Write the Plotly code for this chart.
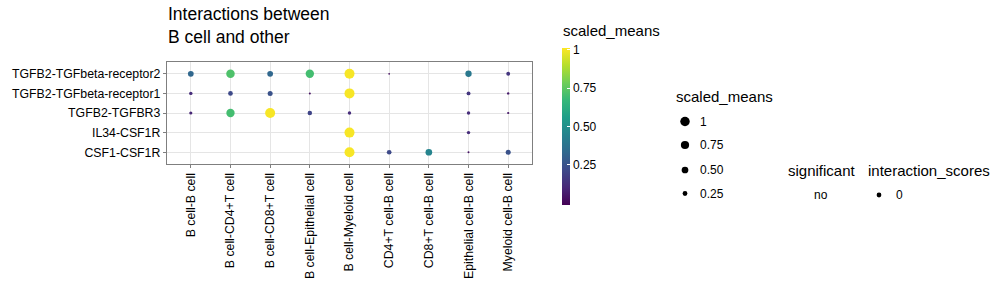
import plotly.graph_objects as go

# ---- data ----
pairs = ["B cell-B cell", "B cell-CD4+T cell", "B cell-CD8+T cell", "B cell-Epithelial cell",
         "B cell-Myeloid cell", "CD4+T cell-B cell", "CD8+T cell-B cell",
         "Epithelial cell-B cell", "Myeloid cell-B cell"]
interactions = ["TGFB2-TGFbeta-receptor2", "TGFB2-TGFbeta-receptor1", "TGFB2-TGFBR3",
                "IL34-CSF1R", "CSF1-CSF1R"]
row_tgfbr2 = [0.33, 0.72, 0.33, 0.70, 1.00, 0.03, None, 0.40, 0.15]
row_tgfbr1 = [0.12, 0.22, 0.25, 0.04, 1.00, None, None, 0.15, 0.06]
row_tgfbr3 = [0.10, 0.70, 1.00, 0.20, 0.12, None, None, 0.12, 0.05]
row_il34 = [None, None, None, None, 1.00, None, None, 0.12, None]
row_csf1 = [None, None, None, None, 1.00, 0.22, 0.45, 0.04, 0.25]
rows = [row_tgfbr2, row_tgfbr1, row_tgfbr3, row_il34, row_csf1]

size_legend_vals = [1, 0.75, 0.5, 0.25]
size_legend_labels = ["1", "0.75", "0.50", "0.25"]
cbar_ticks = [0.25, 0.5, 0.75, 1]
cbar_ticktext = ["0.25", "0.50", "0.75", "1"]

W, H = 998, 284
FONT = "Liberation Sans, Arial, sans-serif"
TXT = "#000000"

def dsize(v):
    return 10 * v ** 0.5

xs, ys, vs = [], [], []
for name, row in zip(interactions, rows):
    for p, v in zip(pairs, row):
        if v is not None:
            xs.append(p); ys.append(name); vs.append(v)

fig = go.Figure()
fig.add_trace(go.Scatter(
    x=xs, y=ys, mode="markers",
    marker=dict(size=[dsize(v) for v in vs], color=vs, colorscale="Viridis",
                cmin=-0.01, cmax=1.01, opacity=1, line=dict(width=0),
                colorbar=dict(x=562 / W, xanchor="left", y=(H - 126.5) / H, yanchor="middle",
                              len=157, lenmode="pixels", thickness=8, xpad=0, ypad=0,
                              outlinewidth=0, ticks="inside", tickcolor="white", ticklen=3,
                              tickvals=cbar_ticks, ticktext=cbar_ticktext,
                              tickfont=dict(size=12, color=TXT, family=FONT))),
    showlegend=False, hoverinfo="x+y"))

# legend glyphs on an overlay pixel axis
leg_x = [685] * 4
leg_y = [121.5, 145, 170, 193.5]
fig.add_trace(go.Scatter(
    x=leg_x + [879], y=leg_y + [195], mode="markers",
    marker=dict(size=[dsize(v) * 0.95 for v in size_legend_vals] + [dsize(0.25) * 0.95],
                color="#000000", opacity=1, line=dict(width=0)),
    xaxis="x2", yaxis="y2", showlegend=False, hoverinfo="skip"))

annotations = []
def txt(x, y, s, size, xanchor="left"):
    annotations.append(dict(x=x / W, y=1 - y / H, xref="paper", yref="paper", text=s,
                            showarrow=False, xanchor=xanchor, yanchor="middle", align="left",
                            font=dict(size=size, color=TXT, family=FONT)))

txt(166, 25, "Interactions between<br>B cell and other", 17.5)
txt(561, 31, "scaled_means", 15)
txt(674, 96, "scaled_means", 15)
for lab, y in zip(size_legend_labels, leg_y):
    txt(698, y, lab, 12)
txt(786, 170, "significant", 15)
txt(866, 170, "interaction_scores", 15)
txt(812, 195, "no", 12)
txt(894, 195, "0", 12)

fig.update_layout(
    width=W, height=H, margin=dict(l=0, r=0, t=0, b=0),
    paper_bgcolor="white", plot_bgcolor="rgba(0,0,0,0)",
    font=dict(family=FONT, color=TXT),
    annotations=annotations,
    xaxis=dict(domain=[167 / W, 532 / W], type="category", categoryorder="array",
               categoryarray=pairs, range=[-0.6, 8.6], tickangle=-90,
               showgrid=True, gridcolor="#e5e5e5", gridwidth=1,
               showline=True, mirror=True, linecolor="#7f7f7f", linewidth=1.4,
               ticks="outside", ticklen=3, tickcolor="#7f7f7f", automargin=False,
               tickfont=dict(size=12.3, color=TXT, family=FONT), zeroline=False),
    yaxis=dict(domain=[1 - 164 / H, 1 - 62 / H], type="category", categoryorder="array",
               categoryarray=interactions, range=[4.6, -0.6],
               showgrid=True, gridcolor="#e5e5e5", gridwidth=1,
               showline=True, mirror=True, linecolor="#7f7f7f", linewidth=1.4,
               ticks="outside", ticklen=3, tickcolor="#7f7f7f", automargin=False,
               tickfont=dict(size=12.3, color=TXT, family=FONT), zeroline=False),
    xaxis2=dict(domain=[0, 1], range=[0, W], visible=False, anchor="y2", fixedrange=True),
    yaxis2=dict(domain=[0, 1], range=[H, 0], visible=False, anchor="x2", fixedrange=True),
)

fig.write_html("out.html")
